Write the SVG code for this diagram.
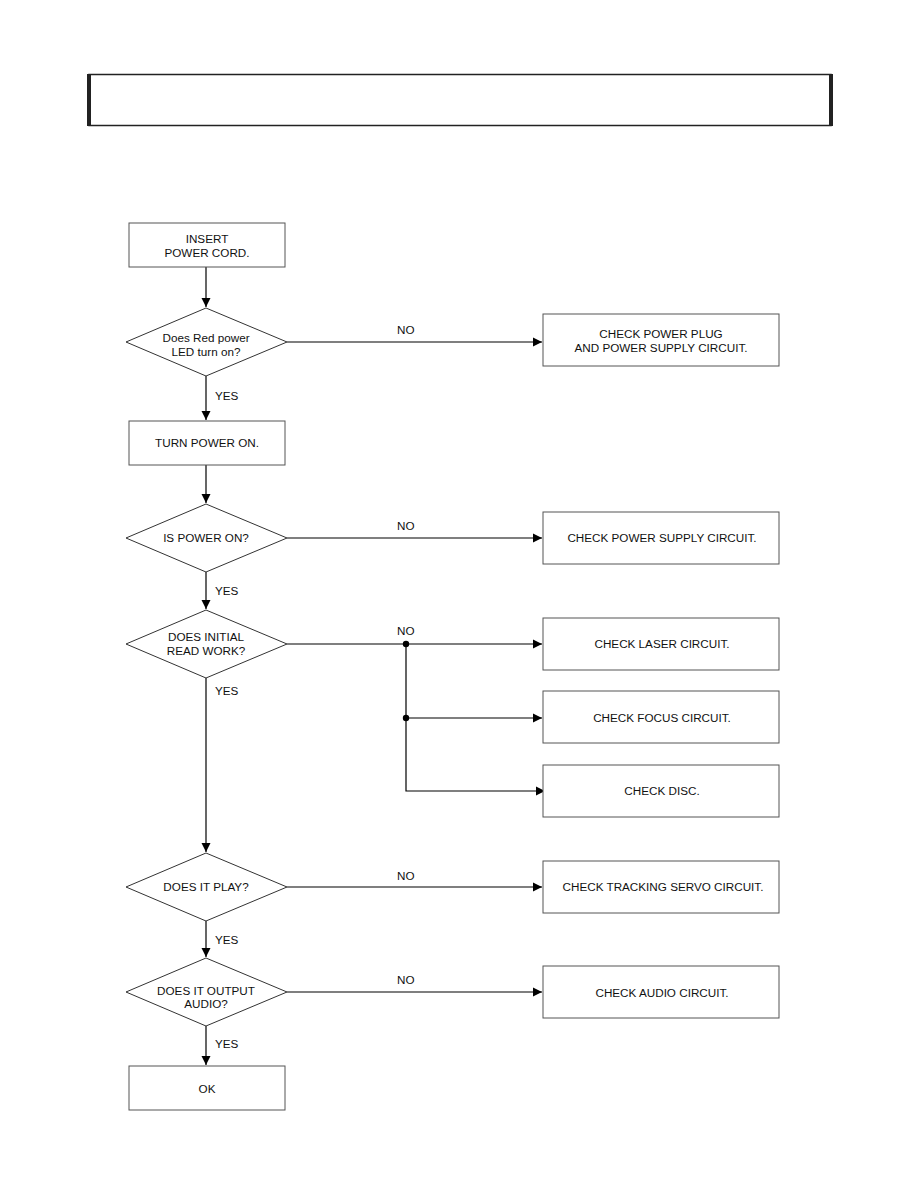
<svg xmlns="http://www.w3.org/2000/svg" width="918" height="1188" viewBox="0 0 918 1188">
<style>
.box{fill:#fff;stroke:#555;stroke-width:1}
.dia{fill:#fff;stroke:#333;stroke-width:1}
.t{font-family:"Liberation Sans",Arial,sans-serif;font-size:11.7px;fill:#111;text-anchor:middle}
.l{font-family:"Liberation Sans",Arial,sans-serif;font-size:11.7px;fill:#111}
.c{fill:none;stroke:#000;stroke-width:1.2}
</style>
<defs>
<marker id="ah" markerWidth="10" markerHeight="10" refX="9" refY="5" orient="auto" markerUnits="userSpaceOnUse">
<path d="M0,0.5 L9,5 L0,9.5 Z" fill="#000"/>
</marker>
</defs>
<rect width="918" height="1188" fill="#fff"/>
<g id="header">
<rect x="89" y="74.5" width="742" height="51" fill="#fff" stroke="#222" stroke-width="1.5"/>
<rect x="87" y="74" width="4" height="52" fill="#222"/>
<rect x="829" y="74" width="4" height="52" fill="#222"/>
</g>
<g id="connectors">
<line class="c" x1="206" y1="267" x2="206" y2="307" marker-end="url(#ah)"/>
<line class="c" x1="287" y1="342" x2="542" y2="342" marker-end="url(#ah)"/>
<line class="c" x1="206" y1="376" x2="206" y2="420" marker-end="url(#ah)"/>
<line class="c" x1="206" y1="465" x2="206" y2="503" marker-end="url(#ah)"/>
<line class="c" x1="287" y1="538" x2="542" y2="538" marker-end="url(#ah)"/>
<line class="c" x1="206" y1="572" x2="206" y2="609" marker-end="url(#ah)"/>
<line class="c" x1="287" y1="644" x2="542" y2="644" marker-end="url(#ah)"/>
<polyline class="c" points="406,644 406,791 545,791" marker-end="url(#ah)"/>
<line class="c" x1="406" y1="718" x2="542" y2="718" marker-end="url(#ah)"/>
<circle cx="406" cy="644" r="3.2" fill="#000"/>
<circle cx="406" cy="718" r="3.2" fill="#000"/>
<line class="c" x1="206" y1="678" x2="206" y2="852" marker-end="url(#ah)"/>
<line class="c" x1="287" y1="887" x2="542" y2="887" marker-end="url(#ah)"/>
<line class="c" x1="206" y1="921" x2="206" y2="957" marker-end="url(#ah)"/>
<line class="c" x1="287" y1="992" x2="542" y2="992" marker-end="url(#ah)"/>
<line class="c" x1="206" y1="1026" x2="206" y2="1065" marker-end="url(#ah)"/>
<text class="l" x="397" y="334">NO</text>
<text class="l" x="397" y="530">NO</text>
<text class="l" x="397" y="635">NO</text>
<text class="l" x="397" y="880">NO</text>
<text class="l" x="397" y="984">NO</text>
<text class="l" x="215" y="400">YES</text>
<text class="l" x="215" y="595">YES</text>
<text class="l" x="215" y="695">YES</text>
<text class="l" x="215" y="944">YES</text>
<text class="l" x="215" y="1048">YES</text>
</g>
<g id="n1"><rect class="box" x="129" y="223" width="156" height="44"/><text class="t" x="207" y="243">INSERT</text><text class="t" x="207" y="257">POWER CORD.</text></g>
<g id="d1"><polygon class="dia" points="206,308 287,342 206,376 126,342"/><text class="t" x="206" y="342">Does Red power</text><text class="t" x="206" y="356">LED turn on?</text></g>
<g id="r1"><rect class="box" x="543" y="314" width="236" height="52"/><text class="t" x="661" y="338">CHECK POWER PLUG</text><text class="t" x="661" y="352">AND POWER SUPPLY CIRCUIT.</text></g>
<g id="n2"><rect class="box" x="129" y="421" width="156" height="44"/><text class="t" x="207" y="447">TURN POWER ON.</text></g>
<g id="d2"><polygon class="dia" points="206,504 287,538 206,572 126,538"/><text class="t" x="206" y="542">IS POWER ON?</text></g>
<g id="r2"><rect class="box" x="543" y="512" width="236" height="52"/><text class="t" x="662" y="542">CHECK POWER SUPPLY CIRCUIT.</text></g>
<g id="d3"><polygon class="dia" points="206,610 287,644 206,678 126,644"/><text class="t" x="206" y="641">DOES INITIAL</text><text class="t" x="206" y="655">READ WORK?</text></g>
<g id="r3"><rect class="box" x="543" y="618" width="236" height="52"/><text class="t" x="662" y="648">CHECK LASER CIRCUIT.</text></g>
<g id="r4"><rect class="box" x="543" y="691" width="236" height="52"/><text class="t" x="662" y="722">CHECK FOCUS CIRCUIT.</text></g>
<g id="r5"><rect class="box" x="543" y="765" width="236" height="52"/><text class="t" x="662" y="795">CHECK DISC.</text></g>
<g id="d4"><polygon class="dia" points="206,853 287,887 206,921 126,887"/><text class="t" x="206" y="891">DOES IT PLAY?</text></g>
<g id="r6"><rect class="box" x="543" y="861" width="236" height="52"/><text class="t" x="663" y="891">CHECK TRACKING SERVO CIRCUIT.</text></g>
<g id="d5"><polygon class="dia" points="206,958 287,992 206,1026 126,992"/><text class="t" x="206" y="995">DOES IT OUTPUT</text><text class="t" x="206" y="1008">AUDIO?</text></g>
<g id="r7"><rect class="box" x="543" y="966" width="236" height="52"/><text class="t" x="662" y="997">CHECK AUDIO CIRCUIT.</text></g>
<g id="n3"><rect class="box" x="129" y="1066" width="156" height="44"/><text class="t" x="207" y="1093">OK</text></g>
</svg>
